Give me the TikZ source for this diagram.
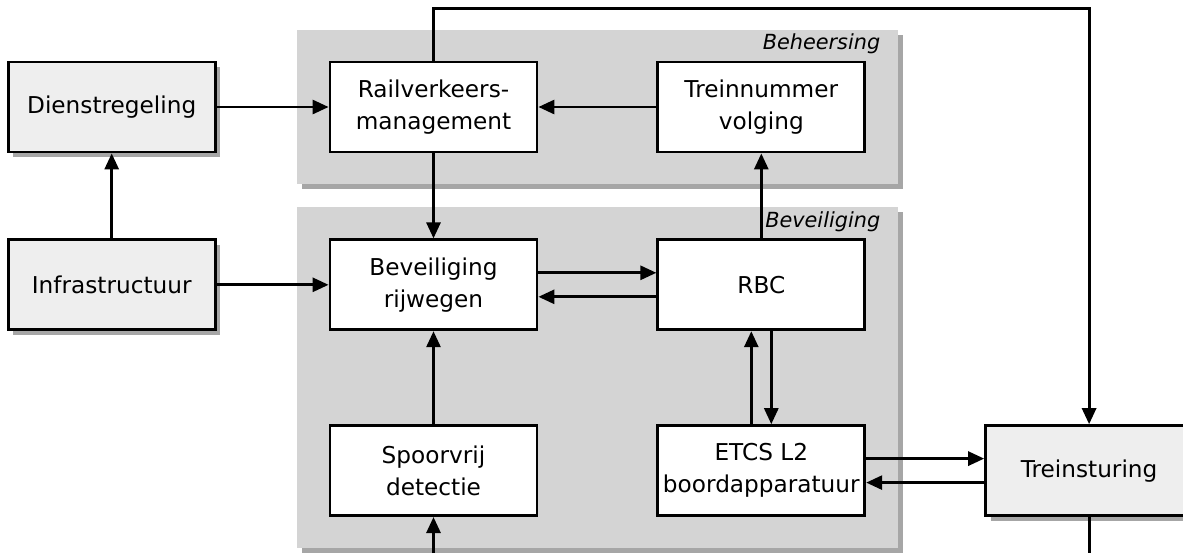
\documentclass[tikz,border=0pt]{standalone}
\usepackage{fontspec}
\setmainfont{DejaVu Sans}
\usetikzlibrary{arrows.meta, positioning, calc, fit, backgrounds, shadows}
\definecolor{groupgray}{RGB}{212, 212, 212}
\definecolor{outergray}{RGB}{238, 238, 238}

\begin{document}
\begin{tikzpicture}[
        x=0.5pt, y=-0.5pt,
        flow/.style={-{Triangle[length=8pt, width=7pt]}, line width=1.4pt},
        unitnode/.style={rectangle, draw, line width=1.4pt, fill=white, minimum width=103.5pt, minimum height=45pt, inner xsep=1.5pt, align=center, font=\fontsize{11.6}{16}\selectfont},
        outernode/.style={unitnode, fill=outergray, drop shadow={shadow xshift=2.5pt, shadow yshift=-2.5pt, fill=black, opacity=0.35}},
        groupbox/.style={rectangle, fill=groupgray, inner xsep=16pt, inner ysep=15.5pt, drop shadow={shadow xshift=2.5pt, shadow yshift=-2.5pt, fill=black, opacity=0.35}},
        grouplabel/.style={font=\fontsize{10.4}{12}\selectfont\itshape, inner sep=1pt, anchor=north east}
    ]
        \useasboundingbox (0,0) rectangle (1183,553);
        \coordinate (bottomedge) at (0,553);

        % Units
        \node[unitnode] (rvm) at (433.5,107) {Railverkeers-\\management};
        \node[unitnode, right=59pt of rvm] (tnv) {Treinnummer\\volging};
        \node[outernode, left=56pt of rvm] (dienst) {Dienstregeling};
        \node[unitnode, below=42.5pt of rvm] (bev) {Beveiliging\\rijwegen};
        \node[outernode, left=56pt of bev] (infra) {Infrastructuur};
        \node[unitnode, right=59pt of bev] (rbc) {RBC};
        \node[unitnode, below=46.5pt of bev] (spoor) {Spoorvrij\\detectie};
        \node[unitnode, right=59pt of spoor] (etcs) {ETCS L2\\boordapparatuur};
        \node[outernode, right=59pt of etcs] (trein) {Treinsturing};

        % Groups
        \begin{scope}[on background layer]
            \node[groupbox, fit=(rvm)(tnv)] (beh) {};
            \node[groupbox, fit=(bev)(etcs)] (bevgroup) {};
        \end{scope}
        \node[grouplabel] at ([xshift=-8pt, yshift=-1pt]beh.north east) {Beheersing};
        \node[grouplabel] at ([xshift=-8pt, yshift=-1pt]bevgroup.north east) {Beveiliging};

        % Arrows
        \draw[flow] (dienst) -- (rvm);
        \draw[flow] (infra) -- (dienst);
        \draw[flow] (infra) -- (bev);
        \draw[flow] (tnv) -- (rvm);
        \draw[flow] (rvm) -- (bev);
        \draw[flow] (rbc) -- (tnv);
        \draw[flow] ([yshift=6pt]bev.east) -- ([yshift=6pt]rbc.west);
        \draw[flow] ([yshift=-6pt]rbc.west) -- ([yshift=-6pt]bev.east);
        \draw[flow] (spoor) -- (bev);
        \draw[flow] ([xshift=-5pt]etcs.north) -- ([xshift=-5pt]rbc.south);
        \draw[flow] ([xshift=5pt]rbc.south) -- ([xshift=5pt]etcs.north);
        \draw[flow] ([yshift=6pt]etcs.east) -- ([yshift=6pt]trein.west);
        \draw[flow] ([yshift=-6pt]trein.west) -- ([yshift=-6pt]etcs.east);
        \draw[flow] (rvm.north) -- ++(0,-52) -| (trein.north);
        \draw[flow] (spoor.south |- bottomedge) -- (spoor.south);
        \draw[line width=1.4pt] (trein.south) -- (trein.south |- bottomedge);
    \end{tikzpicture}
\end{document}
